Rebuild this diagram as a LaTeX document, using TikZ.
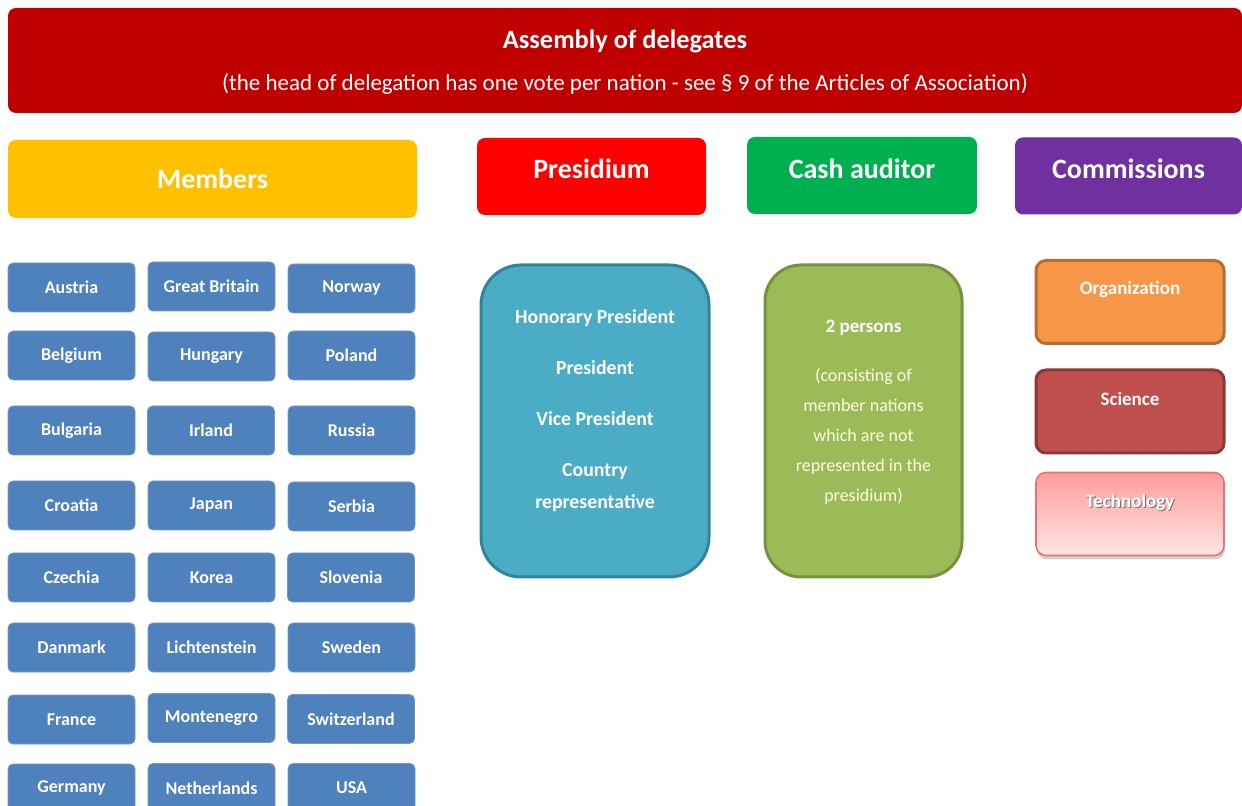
\documentclass[tikz,border=0pt]{standalone}
\usepackage{fontspec}
\setmainfont{Carlito}
\usetikzlibrary{shadows}

\definecolor{assembly}{HTML}{C00000}
\definecolor{members}{HTML}{FFC000}
\definecolor{presidium}{HTML}{FF0000}
\definecolor{cash}{HTML}{00B050}
\definecolor{commissions}{HTML}{7030A0}
\definecolor{country}{HTML}{4F81BD}
\definecolor{countryline}{HTML}{6F97C9}
\definecolor{presfill}{HTML}{4BACC6}
\definecolor{presline}{HTML}{31849B}
\definecolor{cashfill}{HTML}{9BBB59}
\definecolor{cashline}{HTML}{76923C}
\definecolor{orgfill}{HTML}{F79646}
\definecolor{orgline}{HTML}{B66D31}
\definecolor{scifill}{HTML}{C0504D}
\definecolor{sciline}{HTML}{8C3836}
\definecolor{techtop}{HTML}{FF9B9B}
\definecolor{techbot}{HTML}{FFE6E6}
\definecolor{techline}{HTML}{E07575}

\begin{document}
\begin{tikzpicture}[x=0.5pt,y=-0.5pt,every text node part/.style={align=center}]
  \tikzstyle{headbox}=[rounded corners=4pt, minimum height=38.5pt,
    inner sep=0pt, outer sep=0pt]
  \tikzstyle{headtext}=[text=white, font=\bfseries\fontsize{14}{16}\selectfont]
  \tikzstyle{nation}=[rectangle, rounded corners=2.5pt, fill=country,
    draw=countryline, line width=0.4pt, minimum width=63.5pt,
    minimum height=24.5pt, inner sep=0pt, text=white,
    font=\bfseries\fontsize{9}{11}\selectfont]
  \tikzstyle{commission}=[rounded corners=5pt, minimum width=94pt,
    minimum height=41.5pt, line width=1.5pt, inner sep=0pt]
  \tikzstyle{subtext}=[text=white, font=\bfseries\fontsize{9.5}{11}\selectfont]

  \useasboundingbox (0,0) rectangle (1242,806);
  \clip (0,0) rectangle (1242,806);

  \node [headbox, fill=assembly, minimum width=617pt,
    minimum height=52.5pt] (assembly) at (625,60.5) {};
  \node [text=white, font=\bfseries\fontsize{13.2}{15}\selectfont]
    (assemblytitle) at (625,41) {Assembly of delegates};
  \node [text=white, font=\fontsize{11.5}{13}\selectfont]
    (assemblynote) at (625,84) {(the head of delegation has one vote per
    nation - see \S{} 9 of the Articles of Association)};

  \node [headbox, fill=members, minimum width=204.5pt, minimum height=39pt,
    headtext] (members) at (212.5,179) {Members};
  \node [headbox, fill=presidium, minimum width=114.5pt] (presidium)
    at (591.5,176.5) {};
  \node [headtext] (presidiumtitle) at (591.5,169) {Presidium};
  \node [headbox, fill=cash, minimum width=115pt] (cash) at (862,175.5) {};
  \node [headtext] (cashtitle) at (862,169) {Cash auditor};
  \node [headbox, fill=commissions, minimum width=113.5pt] (commissions)
    at (1128.5,176) {};
  \node [headtext] (commissionstitle) at (1128.5,169) {Commissions};

  \node [nation] (austria) at (71.5,287.5) {Austria};
  \node [nation] (britain) at (211.5,286.5) {Great Britain};
  \node [nation] (norway) at (351.5,288.5) {Norway};
  \node [nation] (belgium) at (71.5,355.5) {Belgium};
  \node [nation] (hungary) at (211.5,356.5) {Hungary};
  \node [nation] (poland) at (351.5,355.5) {Poland};
  \node [nation] (bulgaria) at (71.5,430.5) {Bulgaria};
  \node [nation] (irland) at (211,430.5) {Irland};
  \node [nation] (russia) at (351.5,430.5) {Russia};
  \node [nation] (croatia) at (71.5,505.5) {Croatia};
  \node [nation] (japan) at (211.5,505.5) {Japan};
  \node [nation] (serbia) at (351.5,506.5) {Serbia};
  \node [nation] (czechia) at (71.5,577.5) {Czechia};
  \node [nation] (korea) at (211.5,577.5) {Korea};
  \node [nation] (slovenia) at (351,577.5) {Slovenia};
  \node [nation] (danmark) at (71.5,647.5) {Danmark};
  \node [nation] (lichtenstein) at (211.5,647.5) {Lichtenstein};
  \node [nation] (sweden) at (351.5,647.5) {Sweden};
  \node [nation] (france) at (71.5,719.5) {France};
  \node [nation] (montenegro) at (211.5,718) {Montenegro};
  \node [nation] (switzerland) at (351,719) {Switzerland};
  \node [nation] (germany) at (71.5,788.5) {Germany};
  \node [nation] (netherlands) at (211.5,788) {Netherlands};
  \node [nation] (usa) at (351.5,788) {USA};

  \node [rounded corners=20pt, fill=presfill, draw=presline, line width=1.5pt,
    minimum width=114pt, minimum height=156pt] (board) at (595,421) {};
  \node [subtext, font=\bfseries\fontsize{9.9}{16}\selectfont] (boardlist)
    at (595,411) {Honorary President\\[9.5pt] President\\[9.5pt]
    Vice President\\[9.5pt] Country\\ representative};

  \node [rounded corners=18pt, fill=cashfill, draw=cashline, line width=1.5pt,
    minimum width=98.5pt, minimum height=156pt] (auditors) at (863.5,421) {};
  \node [text=white, font=\fontsize{9}{15}\selectfont] (auditorsnote)
    at (863.5,412) {\textbf{\fontsize{9.5}{15}\selectfont 2 persons}\\[9.5pt]
    \textcolor{white!88!yellow}{(consisting of}\\
    \textcolor{white!88!yellow}{member nations}\\
    \textcolor{white!88!yellow}{which are not}\\
    \textcolor{white!88!yellow}{represented in the}\\
    \textcolor{white!88!yellow}{presidium)}};

  \node [commission, fill=orgfill, draw=orgline] (organization)
    at (1130,302) {};
  \node [subtext] (organizationtitle) at (1130,289) {Organization};
  \node [commission, fill=scifill, draw=sciline] (science)
    at (1130,411.5) {};
  \node [subtext] (sciencetitle) at (1130,399) {Science};
  \node [commission, line width=0.8pt, draw=techline,
    top color=techtop, bottom color=techbot,
    drop shadow={shadow xshift=0.5pt, shadow yshift=-2pt, opacity=0.35}]
    (technology) at (1130,514) {};
  \node [subtext, text=black!55] (technologyshadow) at (1131,503.5) {Technology};
  \node [subtext] (technologytitle) at (1130,502) {Technology};
\end{tikzpicture}
\end{document}
